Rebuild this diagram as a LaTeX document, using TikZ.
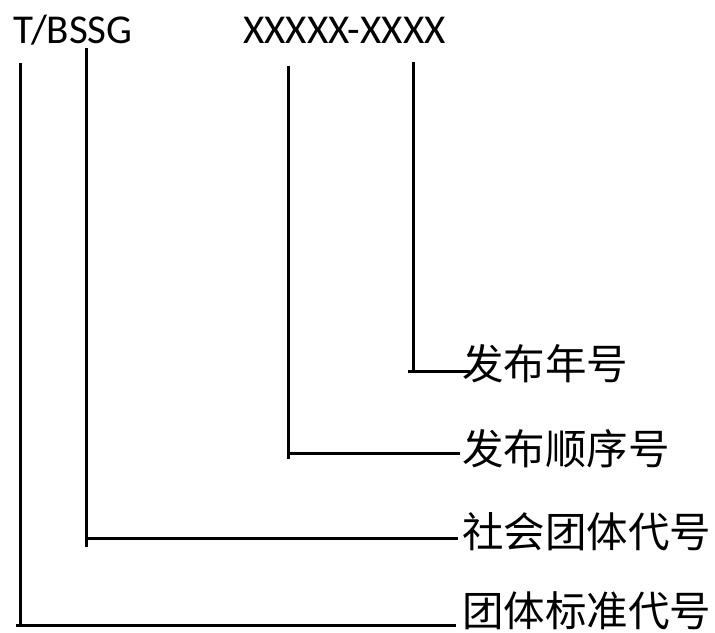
\documentclass[tikz,border=0pt]{standalone}
\usepackage{fontspec}
\setmainfont{Carlito}
\newfontfamily\cjk{Noto Sans CJK SC}
\begin{document}
\begin{tikzpicture}[x=1pt,y=-1pt,
  code/.style={inner sep=0pt,anchor=base west,font=\fontsize{41}{41}\selectfont},
  lab/.style={inner sep=0pt,anchor=west,font=\cjk\fontsize{41.5}{41.5}\selectfont},
  conn/.style={line width=3pt}]
\useasboundingbox (0,0) rectangle (715,632);
\node[code] (std) at (13,43) {T/BSSG};
\node[code] (num) at (243,43) {XXXXX-XXXX};
\node[lab] (l1) at (462,364) {发布年号};
\node[lab] (l2) at (462,449) {发布顺序号};
\node[lab] (l3) at (462,532) {社会团体代号};
\node[lab] (l4) at (462,611) {团体标准代号};
% top ends
\coordinate (t1) at (20,63);
\coordinate (t2) at (86,48);
\coordinate (t3) at (288,66);
\coordinate (t4) at (413,62);
% corners
\coordinate (c1) at (20,625);
\coordinate (c2) at (86,547);
\coordinate (c3) at (288,459);
\coordinate (c4) at (413,371);
% line starts and ends
\coordinate (s1) at (16,625);
\coordinate (s2) at (86,538);
\coordinate (s3) at (288,453);
\coordinate (s4) at (408,371);
\coordinate (e1) at (456,625);
\coordinate (e2) at (458,538);
\coordinate (e3) at (460,453);
\coordinate (e4) at (470,371);
\draw[conn] (t1) -- (c1);
\draw[conn] (s1) -- (e1);
\draw[conn] (t2) -- (c2);
\draw[conn] (s2) -- (e2);
\draw[conn] (t3) -- (c3);
\draw[conn] (s3) -- (e3);
\draw[conn] (t4) -- (c4);
\draw[conn] (s4) -- (e4);
\end{tikzpicture}
\end{document}
